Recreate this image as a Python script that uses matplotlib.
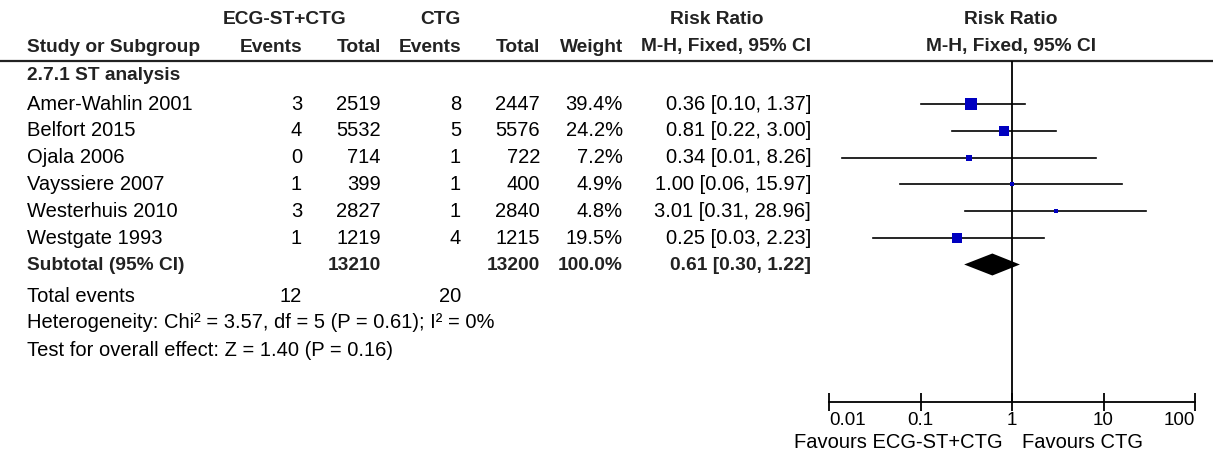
import matplotlib.pyplot as plt
import numpy as np

plt.rcParams["font.family"] = ["Liberation Sans", "DejaVu Sans"]

studies = ["Amer-Wahlin 2001", "Belfort 2015", "Ojala 2006", "Vayssiere 2007",
           "Westerhuis 2010", "Westgate 1993"]
events_st = [3, 4, 0, 1, 3, 1]
total_st = [2519, 5532, 714, 399, 2827, 1219]
events_ctg = [8, 5, 1, 1, 1, 4]
total_ctg = [2447, 5576, 722, 400, 2840, 1215]
weights = [39.4, 24.2, 7.2, 4.9, 4.8, 19.5]
rr = [0.36, 0.81, 0.34, 1.00, 3.01, 0.25]
ci_lo = [0.10, 0.22, 0.014, 0.06, 0.31, 0.03]
ci_hi = [1.37, 3.00, 8.26, 15.97, 28.96, 2.23]

sub_total_st = 13210
sub_total_ctg = 13200
sub_rr, sub_lo, sub_hi = 0.61, 0.30, 1.22
tot_events_st = 12
tot_events_ctg = 20

ticks = [0.01, 0.1, 1, 10, 100]
tick_labels = ["0.01", "0.1", "1", "10", "100"]

W, H = 1213, 455
fig = plt.figure(figsize=(W / 100, H / 100), dpi=100)
ax = fig.add_axes([0, 0, 1, 1])
ax.set_xlim(0, W)
ax.set_ylim(H, 0)
ax.axis("off")

fs = 14.5
fsb = 13.8
hdr = dict(fontsize=fsb, fontweight="bold", color="#222222", va="center")
txt = dict(fontsize=fs, color="black", va="center")

# header
ax.text(285, 20, "ECG-ST+CTG", ha="center", **hdr)
ax.text(440, 20, "CTG", ha="center", **hdr)
ax.text(717, 20, "Risk Ratio", ha="center", **hdr)
ax.text(1011, 20, "Risk Ratio", ha="center", **hdr)
ax.text(27, 47, "Study or Subgroup", ha="left", **hdr)
cols = [302, 381, 461, 540, 623, 811]
for x, s in zip(cols, ["Events", "Total", "Events", "Total", "Weight",
                       "M-H, Fixed, 95% CI"]):
    ax.text(x, 47, s, ha="right", **hdr)
ax.text(1011, 47, "M-H, Fixed, 95% CI", ha="center", **hdr)
ax.plot([0, W], [61, 61], color="#222222", lw=1.6)

ax.text(27, 75, "2.7.1 ST analysis", ha="left", **hdr)

row_y = [104 + 26.8 * i for i in range(len(studies))]
for i, y in enumerate(row_y):
    ax.text(27, y, studies[i], ha="left", **txt)
    ax.text(cols[0], y, str(events_st[i]), ha="right", **txt)
    ax.text(cols[1], y, str(total_st[i]), ha="right", **txt)
    ax.text(cols[2], y, str(events_ctg[i]), ha="right", **txt)
    ax.text(cols[3], y, str(total_ctg[i]), ha="right", **txt)
    ax.text(cols[4], y, f"{weights[i]:.1f}%", ha="right", **txt)
    ax.text(cols[5], y, f"{rr[i]:.2f} [{ci_lo[i]:.2f}, {ci_hi[i]:.2f}]", ha="right", **txt)

ys = 266
ax.text(27, ys, "Subtotal (95% CI)", ha="left", **hdr)
ax.text(cols[1], ys, str(sub_total_st), ha="right", **hdr)
ax.text(cols[3], ys, str(sub_total_ctg), ha="right", **hdr)
ax.text(cols[4], ys, f"{sum(weights):.1f}%", ha="right", **hdr)
ax.text(cols[5], ys, f"{sub_rr:.2f} [{sub_lo:.2f}, {sub_hi:.2f}]", ha="right", **hdr)

ax.text(27, 296, "Total events", ha="left", **txt)
ax.text(cols[0], 296, str(tot_events_st), ha="right", **txt)
ax.text(cols[2], 296, str(tot_events_ctg), ha="right", **txt)
ax.text(27, 323, "Heterogeneity: Chi² = 3.57, df = 5 (P = 0.61); I² = 0%", ha="left", **txt)
ax.text(27, 351, "Test for overall effect: Z = 1.40 (P = 0.16)", ha="left", **txt)

# forest panel
x0, x1, ytop, ybot = 829, 1195, 61, 402
axf = fig.add_axes([x0 / W, (H - ybot) / H, (x1 - x0) / W, (ybot - ytop) / H])
axf.set_xscale("log")
axf.set_xlim(0.01, 100)
axf.set_ylim(ybot, ytop)
axf.patch.set_alpha(0)
for s in ["top", "left", "right"]:
    axf.spines[s].set_visible(False)
axf.spines["bottom"].set_linewidth(1.3)
axf.set_yticks([])
axf.set_xticks(ticks)
axf.set_xticklabels(tick_labels, fontsize=13.5)
labs = axf.get_xticklabels()
labs[0].set_ha("left")
labs[-1].set_ha("right")
axf.xaxis.set_minor_locator(plt.NullLocator())
axf.tick_params(axis="x", direction="inout", length=13, width=1.3, pad=1)
axf.axvline(1, color="black", lw=1.3)

for i, y in enumerate(row_y):
    axf.plot([ci_lo[i], ci_hi[i]], [y, y], color="black", lw=1.2)
    size = 2.07 * np.sqrt(weights[i]) * 0.72
    axf.plot(rr[i], y, marker="s", ms=size, color="#0000C0", mec="#0000C0", mew=0)

yd = ys - 1.5
axf.fill([sub_lo, sub_rr, sub_hi, sub_rr], [yd, yd - 11, yd, yd + 11], color="black", lw=0)

ax.text(1003, 443, "Favours ECG-ST+CTG", ha="right", **txt)
ax.text(1022, 443, "Favours CTG", ha="left", **txt)

fig.savefig("out.png", dpi=100)
